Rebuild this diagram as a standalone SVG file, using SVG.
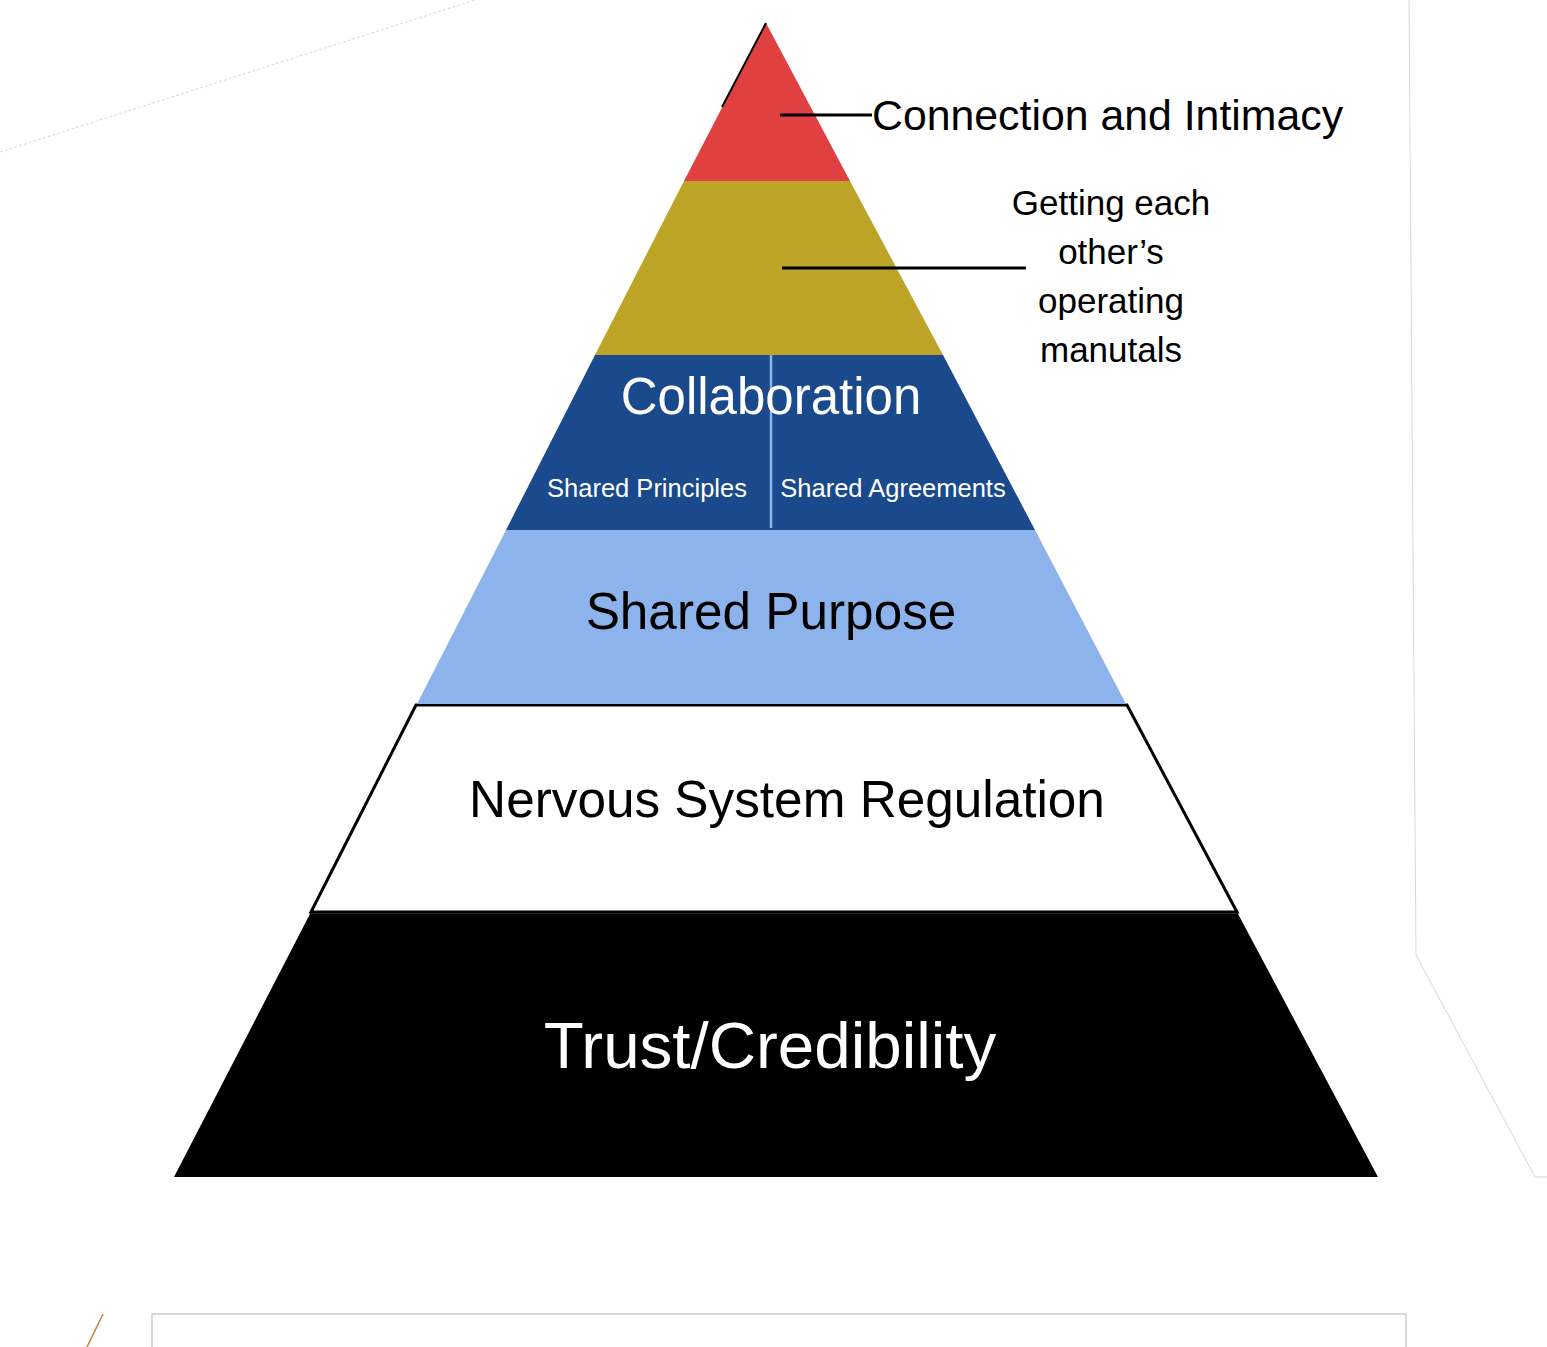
<svg xmlns="http://www.w3.org/2000/svg" width="1547" height="1347" viewBox="0 0 1547 1347">
<style>
text{font-family:"Liberation Sans",Arial,sans-serif}
.blk{fill:#000}
.wht{fill:#fff}
.mid{text-anchor:middle}
.ghost{fill:none;stroke:#d8d8d8;stroke-width:1}
</style>
<rect width="1547" height="1347" fill="#fff"/>
<g id="decor">
<line class="ghost" x1="0" y1="152" x2="475" y2="0" stroke-dasharray="3 2"/>
<polyline class="ghost" points="1409,0 1416,955 1535,1177 1547,1177"/>
<polyline points="152,1347 152,1314 1406,1314 1406,1347" fill="none" stroke="#cccccc" stroke-width="1.5"/>
<line x1="87" y1="1347" x2="103" y2="1314" stroke="#c8803a" stroke-width="1.5"/>
</g>
<g id="layer-trust">
<polygon points="311,912 1237,912 1378,1177 174,1177" fill="#000"/>
<line x1="311" y1="913" x2="1237" y2="913" stroke="#555" stroke-width="2"/>
<text class="wht mid" x="770" y="1068" font-size="65.5">Trust/Credibility</text>
</g>
<g id="layer-nervous">
<polygon points="416,705 1127,705 1237,912 311,912" fill="#fff" stroke="#000" stroke-width="3" stroke-linejoin="miter"/>
<text class="blk mid" x="787" y="817" font-size="51.3">Nervous System Regulation</text>
</g>
<g id="layer-purpose">
<polygon points="506,530 1035,530 1126,704 417,704" fill="#8DB3EC"/>
<text class="blk mid" x="771" y="629" font-size="51.3">Shared Purpose</text>
</g>
<g id="layer-collaboration">
<polygon points="595,355 943,355 1035,530 506,530" fill="#1A4A8C"/>
<line x1="771" y1="352" x2="771" y2="528" stroke="#8DB3EC" stroke-width="2.5"/>
<text class="wht mid" x="771" y="414" font-size="51">Collaboration</text>
<text class="wht mid" x="647" y="497" font-size="25.5">Shared Principles</text>
<text class="wht mid" x="893" y="497" font-size="25.5">Shared Agreements</text>
</g>
<g id="layer-manuals">
<polygon points="684,181 850,181 943,355 595,355" fill="#BDA426"/>
</g>
<g id="layer-connection">
<polygon points="766,23 850,181 684,181" fill="#E04040"/>
<line x1="766" y1="23" x2="722" y2="107" stroke="#000" stroke-width="2"/>
</g>
<g id="connectors">
<line x1="780" y1="115" x2="872" y2="115" stroke="#000" stroke-width="3"/>
<line x1="782" y1="268" x2="1026" y2="268" stroke="#000" stroke-width="3"/>
</g>
<g id="labels">
<text class="blk" x="872" y="130" font-size="42.8">Connection and Intimacy</text>
<text class="blk mid" font-size="35"><tspan x="1111" y="215">Getting each</tspan><tspan x="1111" y="264">other’s</tspan><tspan x="1111" y="313">operating</tspan><tspan x="1111" y="362">manutals</tspan></text>
</g>
</svg>
